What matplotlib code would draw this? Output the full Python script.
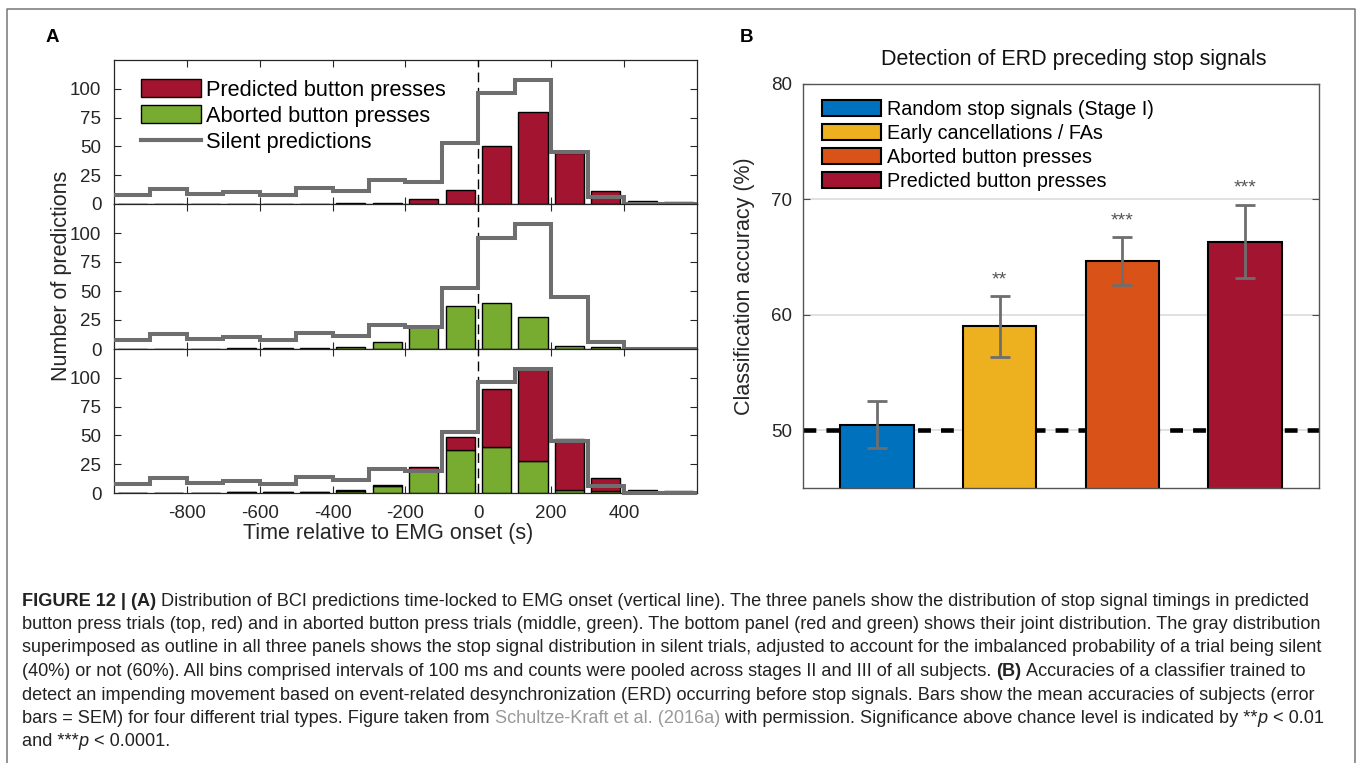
import numpy as np
import matplotlib.pyplot as plt
from matplotlib.patches import Patch
from matplotlib.lines import Line2D

plt.rcParams['font.family'] = ['Liberation Sans', 'DejaVu Sans']

# Panel A: histogram of stop-signal timings, 100 ms bins from -1000 to 600
bin_edges = np.arange(-1000, 601, 100)
bin_centers = bin_edges[:-1] + 50
predicted = [0, 0, 0, 0, 0, 0, 1, 1, 4, 12, 50, 80, 44, 11, 3, 2]
aborted = [0, 0, 0, 1, 1, 1, 2, 6, 19, 37, 40, 28, 3, 2, 0, 0]
silent = [8, 13, 9, 10, 8, 14, 11, 21, 19, 53, 96, 108, 45, 6, 0, 0]

# Panel B: classification accuracies
trial_types = ['Random stop signals (Stage I)', 'Early cancellations / FAs',
               'Aborted button presses', 'Predicted button presses']
accuracy = [50.5, 59.0, 64.65, 66.35]
sem = [2.05, 2.65, 2.1, 3.2]
stars = ['', '**', '***', '***']

RED = '#A2142F'
GREEN = '#77AC30'
BLUE = '#0072BD'
YELLOW = '#EDB120'
ORANGE = '#D95319'
LINEGRAY = '#6E6E6E'
AXCOL = '#262626'

W, H = 1360, 763


def rect(x0, y0, x1, y1):
    return [x0 / W, 1 - y1 / H, (x1 - x0) / W, (y1 - y0) / H]


fig = plt.figure(figsize=(W / 100, H / 100), dpi=100)

# ---- panel A ----
rows = [(60, 204), (204, 349), (349, 493)]
axes_a = [fig.add_axes(rect(114, y0, 697, y1)) for y0, y1 in rows]

for i, ax in enumerate(axes_a):
    if i == 0:
        ax.bar(bin_centers, predicted, width=80, color=RED, edgecolor='k', lw=1, zorder=2)
    elif i == 1:
        ax.bar(bin_centers, aborted, width=80, color=GREEN, edgecolor='k', lw=1, zorder=2)
    else:
        ax.bar(bin_centers, aborted, width=80, color=GREEN, edgecolor='k', lw=1, zorder=2)
        ax.bar(bin_centers, predicted, width=80, bottom=aborted, color=RED,
               edgecolor='k', lw=1, zorder=2)
    ax.axvline(0, color='k', lw=1, ls=(0, (7, 4)), zorder=3)
    ax.stairs(silent, bin_edges, baseline=None, color=LINEGRAY, lw=2.9,
              zorder=4, clip_on=False)
    ax.set_xlim(-1000, 600)
    ax.set_ylim(0, 125)
    ax.set_xticks(range(-800, 401, 200))
    ax.set_yticks([0, 25, 50, 75, 100])
    ax.tick_params(direction='in', top=True, right=True, length=5, width=0.8,
                   color=AXCOL, labelcolor=AXCOL, labelsize=13.5, pad=9)
    for s in ax.spines.values():
        s.set_color(AXCOL)
        s.set_linewidth(0.9)
    if i < 2:
        ax.tick_params(labelbottom=False)
    else:
        ax.set_xticklabels(['-800', '-600', '-400', '-200', '0', '200', '400'])

axes_a[0].legend(
    handles=[Patch(fc=RED, ec='k', lw=1), Patch(fc=GREEN, ec='k', lw=1),
             Line2D([], [], color=LINEGRAY, lw=3)],
    labels=['Predicted button presses', 'Aborted button presses', 'Silent predictions'],
    loc='upper left', bbox_to_anchor=(0.046, 0.865), frameon=False, fontsize=15.7,
    handlelength=2.75, handleheight=0.85, handletextpad=0.25, labelspacing=0.22,
    borderpad=0, borderaxespad=0)

fig.text(62 / W, 1 - 276 / H, 'Number of predictions', rotation=90,
         ha='center', va='center', fontsize=15.5, color=AXCOL)
fig.text(388 / W, 1 - 533 / H, 'Time relative to EMG onset (s)',
         ha='center', va='center', fontsize=15.5, color=AXCOL)

# ---- panel B ----
axb = fig.add_axes(rect(803, 84, 1319, 488))
xpos = np.arange(1, 5)
axb.axhline(50, color='k', lw=3.3, ls=(0, (2.8, 2.2)), zorder=1.5)
axb.bar(xpos, accuracy, width=0.6, color=[BLUE, YELLOW, ORANGE, RED],
        edgecolor='k', lw=1.5, zorder=2)
axb.errorbar(xpos, accuracy, yerr=sem, fmt='none', ecolor=LINEGRAY, elinewidth=2,
             capsize=7, capthick=2, zorder=3)
for x, a, e, s in zip(xpos, accuracy, sem, stars):
    if s:
        axb.text(x, a + e + 1.4, s, ha='center', va='center', fontsize=14,
                 color='#555555')
axb.set_xlim(0.4, 4.6)
axb.set_ylim(45, 80)
axb.set_yticks([50, 60, 70, 80])
axb.set_xticks([])
axb.grid(axis='y', color='#dcdcdc', lw=1.2, zorder=0)
axb.set_axisbelow(True)
axb.tick_params(direction='in', right=True, length=5, width=0.8, color='#4d4d4d',
                labelcolor=AXCOL, labelsize=13.5, pad=8)
for s in axb.spines.values():
    s.set_color('#555555')
    s.set_linewidth(1.0)
fig.text(1074 / W, 1 - 60 / H, 'Detection of ERD preceding stop signals',
         ha='center', va='center', fontsize=15.5, color='#111111')

axb.legend(
    handles=[Patch(fc=c, ec='k', lw=1.5) for c in [BLUE, YELLOW, ORANGE, RED]],
    labels=trial_types, loc='upper left', bbox_to_anchor=(0.037, 0.96),
    frameon=False, fontsize=14.2, handlelength=3.0, handleheight=0.88,
    handletextpad=0.3, labelspacing=0.25, borderpad=0, borderaxespad=0)

fig.text(744 / W, 1 - 286 / H, 'Classification accuracy (%)', rotation=90,
         ha='center', va='center', fontsize=15.5, color=AXCOL)

# panel letters
fig.text(52 / W, 1 - 37 / H, 'A', ha='center', va='center', fontsize=13.5,
         fontweight='bold')
fig.text(746 / W, 1 - 37 / H, 'B', ha='center', va='center', fontsize=13.5,
         fontweight='bold')

# outer frame (open at the bottom)
fig.add_artist(Line2D([7 / W, 7 / W, 1355 / W, 1355 / W],
                      [-0.01, 1 - 9 / H, 1 - 9 / H, -0.01],
                      transform=fig.transFigure, color='#777777', lw=1.1))

# ---- caption ----
cap_lines = [
    [('FIGURE 12 | (A)', 'b'), (' Distribution of BCI predictions time-locked to EMG onset (vertical line). The three panels show the distribution of stop signal timings in predicted', 'n')],
    [('button press trials (top, red) and in aborted button press trials (middle, green). The bottom panel (red and green) shows their joint distribution. The gray distribution', 'n')],
    [('superimposed as outline in all three panels shows the stop signal distribution in silent trials, adjusted to account for the imbalanced probability of a trial being silent', 'n')],
    [('(40%) or not (60%). All bins comprised intervals of 100 ms and counts were pooled across stages II and III of all subjects. ', 'n'), ('(B)', 'b'), (' Accuracies of a classifier trained to', 'n')],
    [('detect an impending movement based on event-related desynchronization (ERD) occurring before stop signals. Bars show the mean accuracies of subjects (error', 'n')],
    [('bars = SEM) for four different trial types. Figure taken from ', 'n'), ('Schultze-Kraft et al. (2016a)', 'g'), (' with permission. Significance above chance level is indicated by **', 'n'), ('p', 'i'), (' < 0.01', 'n')],
    [('and ***', 'n'), ('p', 'i'), (' < 0.0001.', 'n')],
]
cap_size = 13.1
styles = {
    'n': dict(color='#222222'),
    'b': dict(color='#222222', fontweight='bold'),
    'g': dict(color='#9a9a9a'),
    'i': dict(color='#222222', fontstyle='italic'),
}
renderer = fig.canvas.get_renderer()


def text_width(s, kw):
    t = fig.text(0, 0, s, fontsize=cap_size, **kw)
    w = t.get_window_extent(renderer).width
    t.remove()
    return w


for k, line in enumerate(cap_lines):
    x = 22
    y = 1 - (601 + 23.5 * k) / H
    for seg, st in line:
        kw = styles[st]
        fig.text(x / W, y, seg, fontsize=cap_size, va='center', ha='left', **kw)
        x += text_width('x' + seg + 'x', kw) - text_width('xx', kw)

fig.savefig('out.png', dpi=100)
